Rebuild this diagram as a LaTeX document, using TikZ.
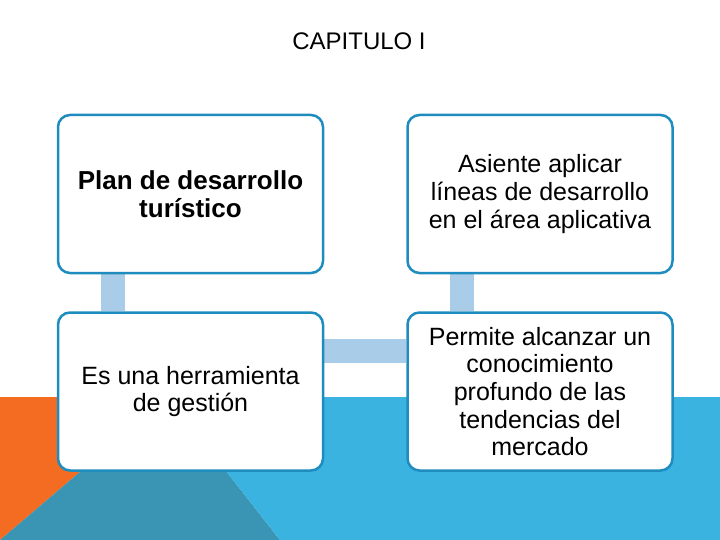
\documentclass[tikz,border=0pt]{standalone}
\usepackage{fontspec}
\setmainfont{Liberation Sans}
\usetikzlibrary{backgrounds}
\definecolor{boxblue}{HTML}{1E8CBE}
\definecolor{linkblue}{HTML}{A9CCE9}
\definecolor{bandblue}{HTML}{3BB3E0}
\definecolor{bandteal}{HTML}{3A94B3}
\definecolor{bandorange}{HTML}{F36C21}
\tikzset{
  paso/.style={draw=boxblue, line width=2.5pt, fill=white, rounded corners=12pt,
    minimum width=265pt, minimum height=158pt, align=center,
    font=\fontsize{25}{27.7}\selectfont},
  enlace/.style={linkblue, line width=24pt}
}

\begin{document}
\begin{tikzpicture}[x=1pt,y=-1pt]
\useasboundingbox (0,0) rectangle (720,540);
% bottom band
\fill[bandorange] (0,397) -- (168,397) -- (0,540) -- cycle;
\fill[bandteal] (168,397) -- (280,540) -- (0,540) -- cycle;
\fill[bandblue] (168,397) -- (720,397) -- (720,540) -- (280,540) -- cycle;
% title
\node (titulo) at (359,41.5) {\fontsize{24}{28}\selectfont CAPITULO I};
% boxes
\node[paso, font=\fontsize{26}{27.7}\selectfont\bfseries] (plan) at (190.5,194) {Plan de desarrollo\\turístico};
\node[paso] (asiente) at (540,194) {Asiente aplicar\\líneas de desarrollo\\en el área aplicativa};
\node[paso] (herramienta) at (190.5,391.5) {Es una herramienta\\de gestión};
\node[paso] (permite) at (540,391.5) {Permite alcanzar un\\conocimiento\\profundo de las\\tendencias del\\mercado};
% links
\begin{scope}[on background layer]
\draw[enlace] ([xshift=-77.5]plan.south) -- ([xshift=-77.5]herramienta.north);
\draw[enlace] ([yshift=41]herramienta.east) -- ([yshift=41]permite.west);
\draw[enlace] ([xshift=-78.5]permite.north) -- ([xshift=-78.5]asiente.south);
\end{scope}
\end{tikzpicture}
\end{document}
